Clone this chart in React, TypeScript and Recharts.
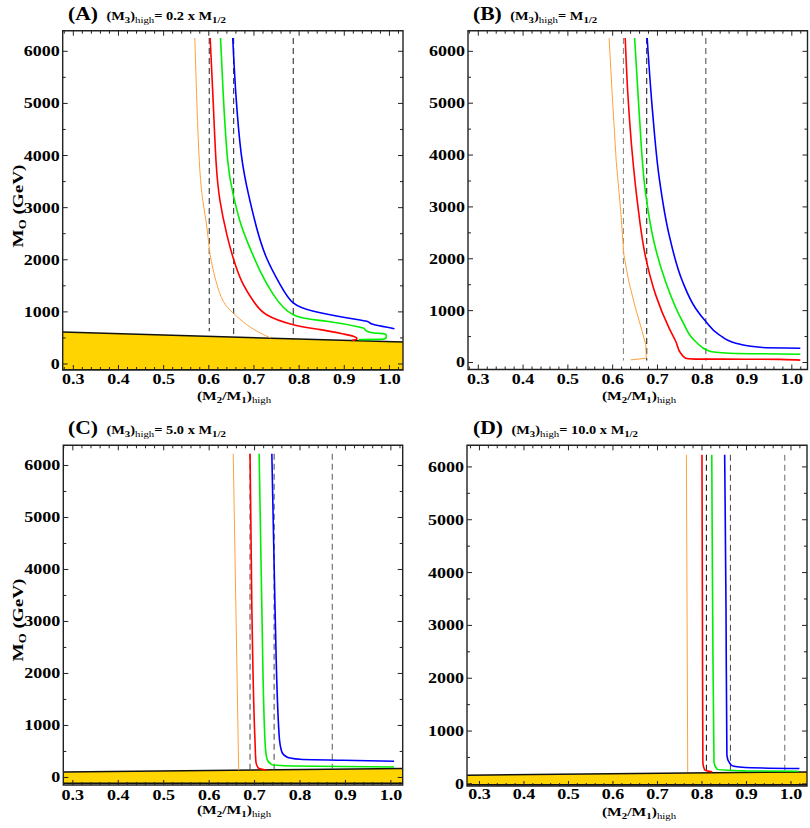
import React from "react";
import { ComposedChart, Line, Area, XAxis, YAxis, ReferenceArea } from "recharts";

type Pt = [number, number];

const X_TICKS = [0.3, 0.4, 0.5, 0.6, 0.7, 0.8, 0.9, 1.0];
const X_MINOR = [0.28, 0.3, 0.32, 0.34, 0.36, 0.38, 0.4, 0.42, 0.44, 0.46, 0.48, 0.5, 0.52, 0.54, 0.56, 0.58, 0.6, 0.62, 0.64, 0.66, 0.68, 0.7, 0.72, 0.74, 0.76, 0.78, 0.8, 0.82, 0.84, 0.86, 0.88, 0.9, 0.92, 0.94, 0.96, 0.98, 1.0, 1.02];
const Y_TICKS = [0, 1000, 2000, 3000, 4000, 5000, 6000];
const Y_MINOR = [0, 500, 1000, 1500, 2000, 2500, 3000, 3500, 4000, 4500, 5000, 5500, 6000];

// (A) M3 = 0.2 x M1/2
const A_TOP = 6256;
const A_YELLOW: Pt[] = [[0.2765, 614], [1.03, 422]];
const A_DASHES: Pt[] = [[0.601, 627], [0.655, 531], [0.787, 467]];
const A_ORANGE: Pt[] = [[0.569, 6256], [0.573, 5168], [0.579, 3890], [0.587, 3122], [0.596, 2610], [0.603, 2098], [0.616, 1587], [0.632, 1203], [0.654, 979], [0.684, 755], [0.714, 595], [0.737, 499]];
const A_RED: Pt[] = [[0.603, 6256], [0.609, 5168], [0.616, 3890], [0.625, 3122], [0.64, 2482], [0.654, 2034], [0.673, 1587], [0.699, 1203], [0.728, 946], [0.787, 755], [0.847, 659], [0.898, 576], [0.92, 531], [0.928, 480], [0.917, 454]];
const A_GREEN: Pt[] = [[0.626, 6256], [0.632, 5168], [0.642, 3890], [0.654, 3249], [0.669, 2738], [0.688, 2290], [0.714, 1779], [0.743, 1331], [0.787, 946], [0.861, 819], [0.935, 704], [0.946, 659], [0.965, 595], [0.99, 576], [0.992, 499], [0.979, 473], [0.932, 467]];
const A_BLUE: Pt[] = [[0.653, 6256], [0.66, 5168], [0.672, 4017], [0.688, 3249], [0.706, 2610], [0.728, 2034], [0.758, 1523], [0.787, 1171], [0.832, 1011], [0.898, 896], [0.95, 819], [0.961, 768], [1.011, 678]];

// (B) M3 = M1/2
const B_TOP = 6256;
const B_DASHES: Pt[] = [[0.624, 40], [0.676, 40], [0.808, 40]];
const B_ORANGE: Pt[] = [[0.592, 6256], [0.599, 5162], [0.608, 3875], [0.618, 2913], [0.625, 2076], [0.636, 1562], [0.651, 1047], [0.666, 598], [0.674, 340], [0.675, 83], [0.64, 50]];
const B_RED: Pt[] = [[0.628, 6256], [0.634, 5162], [0.644, 4005], [0.655, 3106], [0.674, 2012], [0.696, 1304], [0.726, 662], [0.741, 405], [0.752, 179], [0.763, 83], [0.785, 66], [0.897, 63], [0.972, 60], [1.019, 45]];
const B_GREEN: Pt[] = [[0.649, 6256], [0.659, 4842], [0.674, 3233], [0.692, 2334], [0.718, 1562], [0.756, 791], [0.785, 405], [0.815, 224], [0.86, 179], [1.019, 160]];
const B_BLUE: Pt[] = [[0.677, 6256], [0.689, 4842], [0.704, 3555], [0.726, 2462], [0.756, 1562], [0.785, 1047], [0.808, 791], [0.838, 533], [0.875, 372], [0.935, 289], [1.019, 276]];

// (C) M3 = 5.0 x M1/2
const C_TOP = 6227;
const C_YELLOW: Pt[] = [[0.279, 106], [1.026, 170]];
const C_DASHES: Pt[] = [[0.69, 150], [0.743, 155], [0.871, 165]];
const C_ORANGE: Pt[] = [[0.653, 6227], [0.665, 138]];
const C_RED: Pt[] = [[0.69, 6227], [0.694, 3246], [0.701, 683], [0.703, 298], [0.708, 183], [0.727, 138]];
const C_GREEN: Pt[] = [[0.71, 6227], [0.716, 3246], [0.723, 683], [0.727, 362], [0.738, 247], [0.785, 221], [1.007, 202]];
const C_BLUE: Pt[] = [[0.738, 6227], [0.745, 3246], [0.754, 811], [0.76, 490], [0.771, 394], [0.8, 349], [0.895, 330], [1.007, 311]];

// (D) M3 = 10.0 x M1/2
const D_TOP = 6231;
const D_YELLOW: Pt[] = [[0.272, 164], [1.036, 227]];
const D_DASHES: Pt[] = [[0.81, 230], [0.864, 250], [0.986, 258]];
const D_ORANGE: Pt[] = [[0.765, 6231], [0.768, 227]];
const D_RED: Pt[] = [[0.8, 6231], [0.801, 3317], [0.802, 416], [0.806, 265], [0.823, 227]];
const D_GREEN: Pt[] = [[0.822, 6231], [0.824, 3317], [0.827, 416], [0.834, 277], [0.897, 246], [1.017, 240]];
const D_BLUE: Pt[] = [[0.851, 6231], [0.854, 3317], [0.856, 543], [0.866, 353], [0.897, 309], [1.019, 290]];

const ORANGE = "#ffa040";
const RED = "#ff0000";
const GREEN = "#00ee00";
const BLUE = "#0000ff";
const FONT = '"Liberation Serif", "Times New Roman", serif';

const toRows = (pts: Pt[]) => pts.map(([x, y]) => ({ x, y }));

interface Curve { pts: Pt[]; color: string; w: number; type: any; }
interface Panel {
  tag: string; factor: string; left: number; top: number;
  xDom: [number, number]; yDom: [number, number];
  margin: { top: number; right: number; bottom: number; left: number };
  tickGap: number; xLabelY: number;
  dashTop: number; dashes: Pt[]; dashColors: string[];
  yellow?: Pt[]; yellowBase?: number;
  curves: Curve[];
  showYLabel: boolean;
}

const W = 405;
const H = 414;
const X_AXIS_H = 30;
const Y_AXIS_W = 40;

const PANELS: Panel[] = [
  {
    tag: "A", factor: "0.2 x ", left: 0, top: 0,
    xDom: [0.2765, 1.03], yDom: [-115, 6395],
    margin: { top: 30.7, right: 2, bottom: 44 - X_AXIS_H, left: 62.7 - Y_AXIS_W },
    tickGap: 14, xLabelY: 397,
    dashTop: A_TOP, dashes: A_DASHES, dashColors: ["#333", "#333", "#333"],
    yellow: A_YELLOW, yellowBase: -115,
    curves: [
      { pts: A_ORANGE, color: ORANGE, w: 1, type: "natural" },
      { pts: A_RED, color: RED, w: 1.6, type: "natural" },
      { pts: A_GREEN, color: GREEN, w: 1.6, type: "natural" },
      { pts: A_BLUE, color: BLUE, w: 1.6, type: "natural" },
    ],
    showYLabel: true,
  },
  {
    tag: "B", factor: "", left: 405, top: 0,
    xDom: [0.277, 1.035], yDom: [-135, 6398],
    margin: { top: 30.7, right: 2.5, bottom: 44.5 - X_AXIS_H, left: 63 - Y_AXIS_W },
    tickGap: 14.5, xLabelY: 397,
    dashTop: B_TOP, dashes: B_DASHES, dashColors: ["#888", "#222", "#555"],
    curves: [
      { pts: B_ORANGE, color: ORANGE, w: 1, type: "linear" },
      { pts: B_RED, color: RED, w: 1.6, type: "monotoneY" },
      { pts: B_GREEN, color: GREEN, w: 1.6, type: "monotoneY" },
      { pts: B_BLUE, color: BLUE, w: 1.6, type: "monotoneY" },
    ],
    showYLabel: false,
  },
  {
    tag: "C", factor: "5.0 x ", left: 0, top: 414,
    xDom: [0.279, 1.026], yDom: [-145, 6388],
    margin: { top: 31.3, right: 2.3, bottom: 43 - X_AXIS_H, left: 63.3 - Y_AXIS_W },
    tickGap: 14.5, xLabelY: 397,
    dashTop: C_TOP, dashes: C_DASHES, dashColors: ["#555", "#555", "#666"],
    yellow: C_YELLOW, yellowBase: -110,
    curves: [
      { pts: C_ORANGE, color: ORANGE, w: 1, type: "linear" },
      { pts: C_RED, color: RED, w: 1.6, type: "monotoneY" },
      { pts: C_GREEN, color: GREEN, w: 1.6, type: "monotoneY" },
      { pts: C_BLUE, color: BLUE, w: 1.6, type: "monotoneY" },
    ],
    showYLabel: true,
  },
  {
    tag: "D", factor: "10.0 x ", left: 405, top: 414,
    xDom: [0.272, 1.036], yDom: [-40, 6409],
    margin: { top: 31.3, right: 3, bottom: 42 - X_AXIS_H, left: 62 - Y_AXIS_W },
    tickGap: 12.5, xLabelY: 399,
    dashTop: D_TOP, dashes: D_DASHES, dashColors: ["#222", "#555", "#777"],
    yellow: D_YELLOW, yellowBase: -15,
    curves: [
      { pts: D_ORANGE, color: ORANGE, w: 1, type: "linear" },
      { pts: D_RED, color: RED, w: 1.6, type: "monotoneY" },
      { pts: D_GREEN, color: GREEN, w: 1.6, type: "monotoneY" },
      { pts: D_BLUE, color: BLUE, w: 1.6, type: "monotoneY" },
    ],
    showYLabel: false,
  },
];

const isMajorX = (v: number) => X_TICKS.some((t) => Math.abs(t - v) < 1e-6);

const makeXTick = (plotTop: number, gap: number) => (p: any) => {
  const { x, y, payload } = p;
  const v = payload.value as number;
  const major = isMajorX(v);
  const len = major ? 5 : 3;
  return (
    <g>
      <line x1={x} y1={y} x2={x} y2={y - len} stroke="#222" strokeWidth={1} />
      <line x1={x} y1={plotTop} x2={x} y2={plotTop + len} stroke="#222" strokeWidth={1} />
      {major && (
        <text transform={`translate(${x},${y + gap}) scale(1.2,1)`} textAnchor="middle"
          fontFamily={FONT} fontWeight="bold" fontSize={15} fill="#000">
          {v.toFixed(1)}
        </text>
      )}
    </g>
  );
};

const makeYTick = (plotRight: number) => (p: any) => {
  const { x, y, payload } = p;
  const v = payload.value as number;
  const major = Y_TICKS.includes(v);
  const len = major ? 5 : 3;
  return (
    <g>
      <line x1={x} y1={y} x2={x + len} y2={y} stroke="#222" strokeWidth={1} />
      <line x1={plotRight} y1={y} x2={plotRight - len} y2={y} stroke="#222" strokeWidth={1} />
      {major && (
        <text transform={`translate(${x - 3},${y + 5}) scale(1.2,1)`} textAnchor="end"
          fontFamily={FONT} fontWeight="bold" fontSize={15} fill="#000">
          {v}
        </text>
      )}
    </g>
  );
};

const sub = (bold = true): React.CSSProperties => ({
  fontSize: 9, verticalAlign: "-3px", fontWeight: bold ? "bold" : "normal", lineHeight: "9px",
});

function PanelChart({ p }: { p: Panel }) {
  const plotTop = p.margin.top;
  const plotRight = W - p.margin.right;
  return (
    <div style={{ position: "absolute", left: p.left, top: p.top, width: W, height: H }}>
      <ComposedChart width={W} height={H} margin={p.margin}>
        <XAxis type="number" dataKey="x" domain={p.xDom} allowDataOverflow ticks={X_MINOR}
          interval={0} height={X_AXIS_H} axisLine={false} tickLine={false} tickSize={0} tickMargin={0}
          tick={makeXTick(plotTop, p.tickGap)} />
        <YAxis type="number" domain={p.yDom} allowDataOverflow ticks={Y_MINOR}
          interval={0} width={Y_AXIS_W} axisLine={false} tickLine={false} tickSize={0} tickMargin={0}
          tick={makeYTick(plotRight)} />
        {p.yellow && (
          <Area data={toRows(p.yellow)} dataKey="y" type="linear" baseValue={p.yellowBase}
            fill="#ffd400" fillOpacity={1} stroke="#111" strokeWidth={1.5}
            isAnimationActive={false} dot={false} activeDot={false} />
        )}
        {p.yellow && (
          <Line data={[{ x: p.yellow[0][0], y: p.yellowBase }, { x: p.yellow[1][0], y: p.yellowBase }]}
            dataKey="y" type="linear" stroke="#111" strokeWidth={1.5} dot={false}
            activeDot={false} isAnimationActive={false} />
        )}
        {p.dashes.map(([x, bottom], i) => (
          <Line key={`d${i}`} data={[{ x, y: p.dashTop }, { x, y: bottom }]} dataKey="y"
            type="linear" stroke={p.dashColors[i]} strokeWidth={1.1} strokeDasharray="6 4"
            dot={false} activeDot={false} isAnimationActive={false} />
        ))}
        {p.curves.map((c, i) => (
          <Line key={`c${i}`} data={toRows(c.pts)} dataKey="y" type={c.type} stroke={c.color}
            strokeWidth={c.w} dot={false} activeDot={false} isAnimationActive={false} />
        ))}
        <ReferenceArea x1={p.xDom[0]} x2={p.xDom[1]} y1={p.yDom[0]} y2={p.yDom[1]}
          fill="none" stroke="#222" strokeWidth={1.4} ifOverflow="visible" />
      </ComposedChart>

      <div style={{ position: "absolute", left: 68, top: 3,
        fontFamily: FONT, fontWeight: "bold", whiteSpace: "nowrap", color: "#000",
        transform: "scaleX(1.2)", transformOrigin: "left top", lineHeight: "22px" }}>
        <span style={{ fontSize: 18 }}>({p.tag})</span>
        <span style={{ fontSize: 12, marginLeft: 7 }}>
          (M<span style={sub()}>3</span>)<span style={sub(false)}>high</span>= {p.factor}M<span style={sub()}>1/2</span>
        </span>
      </div>

      <div style={{ position: "absolute", left: 234, top: p.xLabelY, fontFamily: FONT,
        fontWeight: "bold", fontSize: 13, lineHeight: "13px", whiteSpace: "nowrap", color: "#000",
        transform: "translate(-50%, -50%) scaleX(1.2)" }}>
        (M<span style={sub()}>2</span>/M<span style={sub()}>1</span>)<span style={sub(false)}>high</span>
      </div>

      {p.showYLabel && (
        <div style={{ position: "absolute", left: 19, top: 206, fontFamily: FONT,
          fontWeight: "bold", fontSize: 15, lineHeight: "15px", whiteSpace: "nowrap", color: "#000",
          transform: "translate(-50%, -50%) rotate(-90deg) scaleX(1.28)" }}>
          M<span style={{ fontSize: 10, verticalAlign: "-3px", lineHeight: "10px" }}>O</span> (GeV)
        </div>
      )}
    </div>
  );
}

export default function App() {
  return (
    <div style={{ position: "absolute", left: 0, top: 0, width: 810, height: 828, background: "#fff", overflow: "hidden" }}>
      {PANELS.map((p) => (
        <PanelChart key={p.tag} p={p} />
      ))}
    </div>
  );
}
